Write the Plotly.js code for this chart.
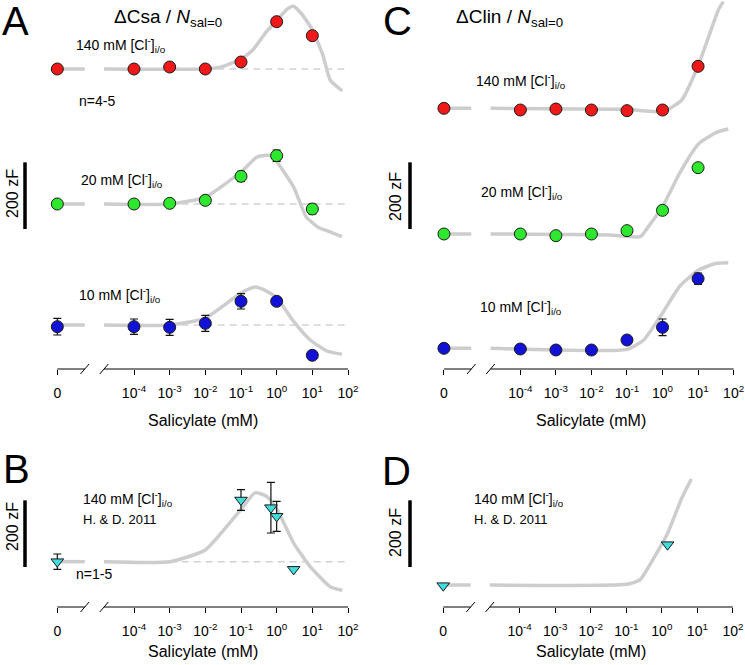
<!DOCTYPE html>
<html><head><meta charset="utf-8">
<script src="https://cdn.plot.ly/plotly-3.0.1.min.js"></script>
<style>html,body{margin:0;padding:0;background:#fff}</style>
</head><body><div id="chart" style="width:745px;height:665px"></div>
<script>
// ---------------- data ----------------
// salicylate concentrations (mM); 0 is drawn on the broken part of the log axis
const conc = [0, 1e-4, 1e-3, 1e-2, 1e-1, 1, 10];
const tickConcExp = [-4, -3, -2, -1, 0, 1, 2];
const tickText = ['0', '10<sup>-4</sup>', '10<sup>-3</sup>', '10<sup>-2</sup>', '10<sup>-1</sup>', '10<sup>0</sup>', '10<sup>1</sup>', '10<sup>2</sup>'];

// Panel A: ΔCsa (zF, relative to sal=0)
const a140 = [0, 0, 6, 0, 21, 142, 100];
const a20 = [0, 0, 2, 11, 83, 145, -15];
const a20Err = [0, 0, 0, 0, 15, 17, 15];
const a10 = [-5, -5, -7, 5, 71, 71, -91];
const a10Err = [25, 23, 24, 24, 23, 0, 0];
// Panel A fits (log10 conc, zF)
const a140FitLog = [-4.84, -2, -1.5, -1, -0.66, -0.3, 0.02, 0.3, 0.47, 0.7, 1.0, 1.3, 1.5, 1.84];
const a140Fit    = [0, 0, 8, 30, 58, 110, 148, 180, 188, 165, 118, 40, -33, -66];
const a20FitLog = [-4.84, -3, -2.01, -1.0, -0.55, -0.18, 0.01, 0.48, 0.83, 1.2, 1.41, 1.83];
const a20Fit    = [0, 0, 20, 96, 141, 146, 126, 50, -39, -72, -80, -98];
const a10FitLog = [-4.84, -3, -2.01, -1.0, -0.6, -0.27, 0.01, 0.48, 0.94, 1.41, 1.83];
const a10Fit    = [0, 0, 20, 96, 114, 101, 81, 10, -45, -78, -88];

// Panel C: ΔClin (zF)
const c140 = [0, -5, -2, -5, -7, -5, 126];
const c20 = [0, 0, -5, 0, 10, 71, 199];
const c10 = [0, -2, -5, -5, 25, 63, 209];
const c10Err = [0, 0, 0, 0, 6, 25, 17];
const c140FitLog = [-4.84, -1, -0.44, 0.03, 0.54, 1.01, 1.57, 1.71];
const c140Fit    = [0, -3, -8, -10, 25, 130, 295, 320];
const c20FitLog = [-4.84, -1.5, -0.63, -0.4, 0.0, 0.49, 1.01, 1.52, 1.85];
const c20Fit    = [0, -3, -8, 22, 82, 184, 270, 305, 315];
const c10FitLog = [-4.84, -1.0, -0.53, 0, 0.49, 1.01, 1.52, 1.85];
const c10Fit    = [0, -3, 25, 106, 187, 235, 255, 257];

// Panel B: H. & D. 2011, ΔCsa (zF)
const bConc = [0, 0.1, 0.69, 1.0, 3.0];
const bVal = [0, 185, 162, 136, -23];
const bErr = [23, 31, 76, 45, 0];
const bFitLog = [-4.84, -2.99, -2.0, -1.0, -0.6, -0.27, 0.01, 0.48, 0.94, 1.51, 1.84];
const bFit    = [0, 0, 35, 157, 207, 195, 157, 55, -15, -76, -86];

// Panel D: H. & D. 2011, ΔClin (zF)
const dConc = [0, 1.45];
const dVal = [-2, 121];
const dFitLog = [-4.84, -1, -0.62, -0.2, 0.17, 0.55, 0.83];
const dFit    = [0, 2, 15, 86, 157, 258, 318];

// ---------------- layout helpers ----------------
const W = 745, H = 665;
const ZERO_POS = -6.15;          // log10 position of the "0" tick
const BRK_L = -5.38, BRK_R = -4.84; // axis break
const px = x => x / W, py = y => 1 - y / H;
const FONT = 'Arial, "Liberation Sans", Helvetica, sans-serif';
const xOf = c => c === 0 ? Math.pow(10, ZERO_POS) : c;
const CURVE = '#cdcdcd', DASH = '#d2d2d2';

const traces = [];
function axisParts(xa, ya) {
  const line = {color: '#000', width: 1};
  traces.push({x: [xOf(0), Math.pow(10, BRK_L)], y: [0, 0], xaxis: xa, yaxis: ya, mode: 'lines', line, hoverinfo: 'skip', showlegend: false});
  traces.push({x: [Math.pow(10, BRK_R), 100], y: [0, 0], xaxis: xa, yaxis: ya, mode: 'lines', line, hoverinfo: 'skip', showlegend: false});
  [BRK_L, BRK_R].forEach(b => traces.push({x: [Math.pow(10, b - 0.12), Math.pow(10, b + 0.12)], y: [-15, 15], xaxis: xa, yaxis: ya, mode: 'lines', line, hoverinfo: 'skip', showlegend: false}));
}
function series(xa, ya, off, xs, ys, errs, fitLog, fit, color, symbol, dashFrom) {
  if (dashFrom !== null) {
    traces.push({x: [Math.pow(10, dashFrom), 100], y: [off, off], xaxis: xa, yaxis: ya, mode: 'lines',
      line: {color: DASH, width: 1.5, dash: '7px,5px'}, hoverinfo: 'skip', showlegend: false});
  }
  traces.push({x: [xOf(0), Math.pow(10, BRK_L)], y: [off + fit[0], off + fit[0]], xaxis: xa, yaxis: ya, mode: 'lines',
    line: {color: CURVE, width: 3.5}, hoverinfo: 'skip', showlegend: false});
  traces.push({x: fitLog.map(v => Math.pow(10, v)), y: fit.map(v => v + off), xaxis: xa, yaxis: ya, mode: 'lines',
    line: {color: CURVE, width: 3.5, shape: 'spline', smoothing: 0.5}, hoverinfo: 'skip', showlegend: false});
  const t = {x: xs.map(xOf), y: ys.map(v => v + off), xaxis: xa, yaxis: ya, mode: 'markers', cliponaxis: false,
    marker: {color: color, size: symbol === 'circle' ? 12 : 11, symbol: symbol, line: {color: '#1a1a1a', width: 1}}, showlegend: false};
  if (errs) t.error_y = {type: 'data', array: errs, visible: true, color: '#111', thickness: 1.2, width: 4};
  traces.push(t);
}

const RED = '#f01818', GREEN = '#2ee82e', BLUE = '#1212d6', CYAN = '#42dcdc';
// offsets (zF) placing the stacked traces
const offA = [900, 495, 132], offC = [782, 405, 62], offB = 136, offD = 66;

axisParts('x', 'y');
series('x', 'y', offA[0], conc, a140, null, a140FitLog, a140Fit, RED, 'circle', -2);
series('x', 'y', offA[1], conc, a20, a20Err, a20FitLog, a20Fit, GREEN, 'circle', -3);
series('x', 'y', offA[2], conc, a10, a10Err, a10FitLog, a10Fit, BLUE, 'circle', -3);

axisParts('x2', 'y2');
series('x2', 'y2', offC[0], conc, c140, null, c140FitLog, c140Fit, RED, 'circle', null);
series('x2', 'y2', offC[1], conc, c20, null, c20FitLog, c20Fit, GREEN, 'circle', null);
series('x2', 'y2', offC[2], conc, c10, c10Err, c10FitLog, c10Fit, BLUE, 'circle', null);

axisParts('x3', 'y3');
series('x3', 'y3', offB, bConc, bVal, bErr, bFitLog, bFit, CYAN, 'triangle-down', -3);

axisParts('x4', 'y4');
series('x4', 'y4', offD, dConc, dVal, null, dFitLog, dFit, CYAN, 'triangle-down', null);

const tickVals = [xOf(0)].concat(tickConcExp.map(e => Math.pow(10, e)));
function xax(domain, range, pos) {
  return {domain, range, type: 'log', anchor: 'free', position: pos, showline: false, showgrid: false, zeroline: false,
    tickmode: 'array', tickvals: tickVals, ticktext: tickText, ticks: 'outside', ticklen: 5, tickwidth: 1, tickcolor: '#000',
    ticklabelstandoff: 6, ticklabeloverflow: 'allow', tickfont: {family: FONT, size: 14, color: '#000'}, fixedrange: true};
}
function yax(domain, range) {
  return {domain, range, visible: false, showgrid: false, zeroline: false, fixedrange: true};
}
const topDom = [(H - 378) / H, 1], botDom = [(H - 616) / H, (H - 395) / H];
const topPos = (H - 369) / H, botPos = (H - 607) / H;

const ann = [];
function txt(x, y, text, size, opts) {
  ann.push(Object.assign({xref: 'paper', yref: 'paper', x: px(x), y: py(y), text, showarrow: false,
    xanchor: 'left', yanchor: 'middle', font: {family: FONT, size: size, color: '#000'}}, opts || {}));
}
const cl = n => n + ' mM [Cl<sup>-</sup>]<sub>i/o</sub>';
// panel letters
txt(0, 21, 'A', 40); txt(381, 21, 'C', 40); txt(1, 469, 'B', 40); txt(380, 471, 'D', 40);
// titles
txt(112, 18, 'ΔCsa / <i>N</i><sub>sal=0</sub>', 19);
txt(454, 18, 'ΔClin / <i>N</i><sub>sal=0</sub>', 19);
// labels
txt(74, 45, cl(140), 14); txt(77, 101, 'n=4-5', 14); txt(79, 180, cl(20), 14); txt(77, 295, cl(10), 14);
txt(474, 81, cl(140), 14); txt(479, 192, cl(20), 14); txt(478, 307, cl(10), 14);
txt(81, 499, cl(140), 14); txt(81, 519, 'H. & D. 2011', 13); txt(74, 574, 'n=1-5', 14);
txt(472, 499, cl(140), 14); txt(472, 519, 'H. & D. 2011', 13);
// x titles
txt(203, 421, 'Salicylate (mM)', 16, {xanchor: 'center'});
txt(591, 421, 'Salicylate (mM)', 16, {xanchor: 'center'});
txt(203, 651, 'Salicylate (mM)', 16, {xanchor: 'center'});
txt(591, 651, 'Salicylate (mM)', 16, {xanchor: 'center'});
// scale bar labels
txt(12, 194, '200 zF', 16, {xanchor: 'center', textangle: -90});
txt(395, 197, '200 zF', 16, {xanchor: 'center', textangle: -90});
txt(12, 527, '200 zF', 16, {xanchor: 'center', textangle: -90});
txt(395, 533, '200 zF', 16, {xanchor: 'center', textangle: -90});

const bar = (x, yref) => ({type: 'line', xref: 'paper', yref: yref, x0: px(x), x1: px(x), y0: 420, y1: 620, line: {color: '#000', width: 3.5}});
const barB = (x, yref) => ({type: 'line', xref: 'paper', yref: yref, x0: px(x), x1: px(x), y0: 120, y1: 320, line: {color: '#000', width: 3.5}});

const layout = {
  width: W, height: H, margin: {l: 0, r: 0, t: 0, b: 0}, paper_bgcolor: '#fff', plot_bgcolor: 'rgba(0,0,0,0)',
  showlegend: false, font: {family: FONT},
  xaxis: xax([0, 0.5], [-7.757, 2.687], topPos), yaxis: yax(topDom, [-27, 1107]),
  xaxis2: xax([0.5, 1], [-8.16, 2.32], topPos), yaxis2: yax(topDom, [-27, 1107]),
  xaxis3: xax([0, 0.5], [-7.757, 2.687], botPos), yaxis3: yax(botDom, [-27, 636]),
  xaxis4: xax([0.5, 1], [-8.14, 2.34], botPos), yaxis4: yax(botDom, [-27, 636]),
  annotations: ann,
  shapes: [bar(25, 'y'), bar(410, 'y2'), barB(25, 'y3'), barB(410, 'y4')]
};
Plotly.newPlot('chart', traces, layout, {displayModeBar: false, staticPlot: true});
</script></body></html>
